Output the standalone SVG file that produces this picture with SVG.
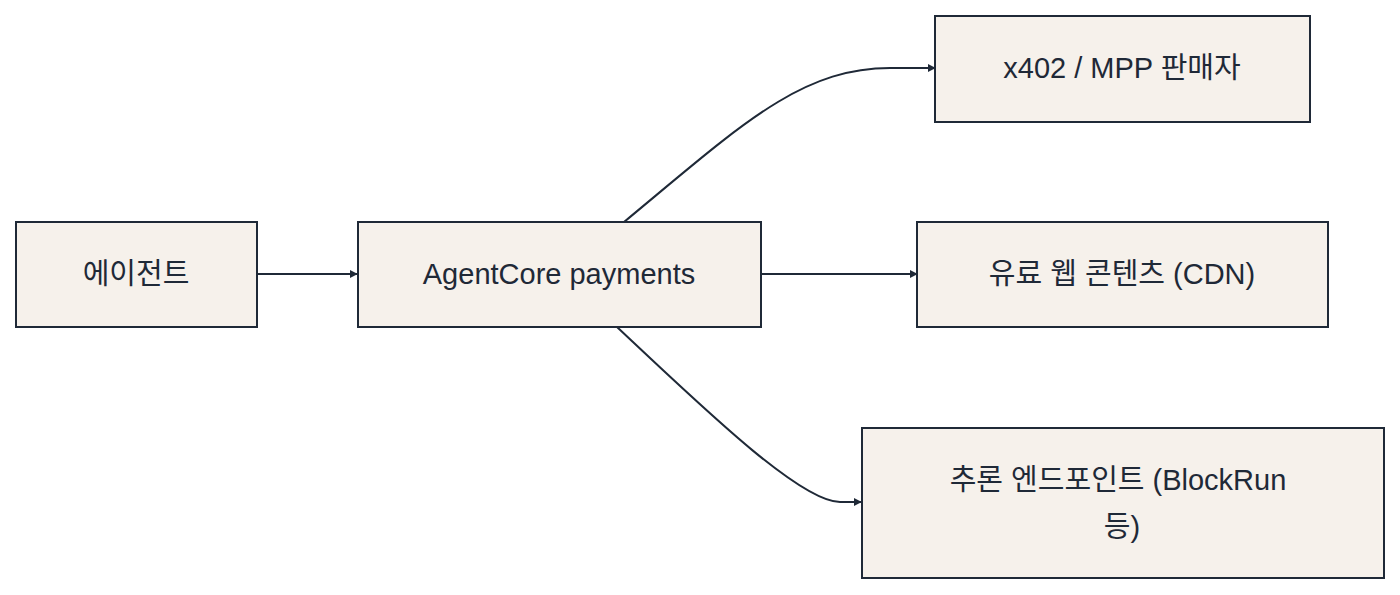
<svg xmlns="http://www.w3.org/2000/svg" width="1400" height="595" viewBox="0 0 1400 595">
<style>
.n{fill:#f6f1eb;stroke:#1f2937;stroke-width:2}
.t{font-family:"Liberation Sans","Noto Sans CJK KR",sans-serif;font-size:29px;fill:#1f2937;text-anchor:middle;dominant-baseline:central}
.e{fill:none;stroke:#1f2937;stroke-width:2}
</style>
<defs><marker id="a" viewBox="0 0 10 10" refX="9" refY="5" markerWidth="8" markerHeight="8" markerUnits="userSpaceOnUse" orient="auto"><path d="M0,0L10,5L0,10z" fill="#1f2937"/></marker></defs>
<rect width="1400" height="595" fill="#fff"/>
<g id="edges">
<path class="e" d="M257,274H357" marker-end="url(#a)"/>
<path class="e" d="M761,274H917" marker-end="url(#a)"/>
<path class="e" d="M624,222C740,126 800,68 890,68H935" marker-end="url(#a)"/>
<path class="e" d="M617,327C700,405 800,502 840,502H861" marker-end="url(#a)"/>
</g>
<g id="agent"><rect class="n" x="16" y="222" width="241" height="105"/><text class="t" x="136" y="274">에이전트</text></g>
<g id="core"><rect class="n" x="358" y="222" width="403" height="105"/><text class="t" x="559" y="274">AgentCore payments</text></g>
<g id="seller"><rect class="n" x="935" y="16" width="375" height="106"/><text class="t" x="1122" y="68">x402 / MPP 판매자</text></g>
<g id="cdn"><rect class="n" x="917" y="222" width="411" height="105"/><text class="t" x="1122" y="274">유료 웹 콘텐츠 (CDN)</text></g>
<g id="infer"><rect class="n" x="862" y="428" width="522" height="150"/><text class="t" x="1118" y="480">추론 엔드포인트 (BlockRun</text><text class="t" x="1122" y="527">등)</text></g>
</svg>
